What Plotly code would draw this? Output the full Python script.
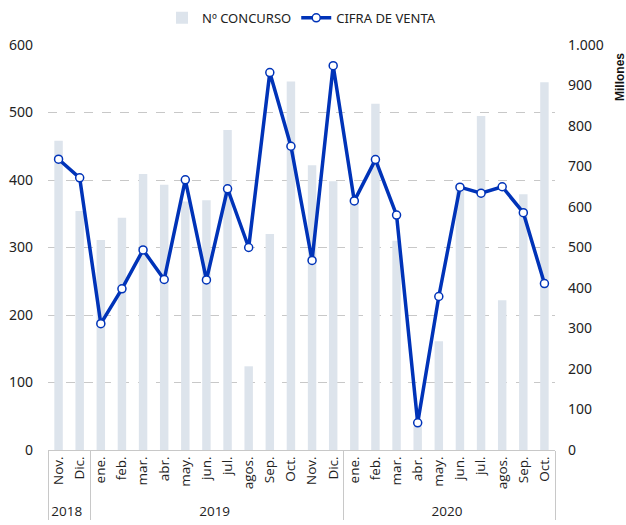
import plotly.graph_objects as go

ZW = "\u200b"  # keeps repeated month names distinct across years
years = ["2018"] * 2 + ["2019"] * 12 + ["2020"] * 10
months = ["Nov.", "Dic.",
          "ene.", "feb.", "mar.", "abr.", "may.", "jun.", "jul.", "agos.", "Sep.", "Oct.", "Nov." + ZW, "Dic." + ZW,
          "ene.", "feb.", "mar.", "abr.", "may.", "jun.", "jul.", "agos.", "Sep.", "Oct."]

concurso = [458, 354,
            311, 344, 409, 393, 368, 370, 474, 124, 320, 546, 422, 398,
            368, 513, 310, 35, 161, 385, 495, 222, 379, 545]

cifra_venta = [718, 672,
               312, 398, 494, 421, 667, 420, 645, 500, 932, 750, 468, 949,
               615, 717, 580, 67, 379, 649, 634, 650, 586, 411]

fig = go.Figure()
fig.add_trace(go.Bar(
    x=[years, months], y=concurso, name="Nº CONCURSO",
    marker=dict(color="#dde4ec", line=dict(width=0)),
    width=0.4, yaxis="y",
))
fig.add_trace(go.Scatter(
    x=[years, months], y=cifra_venta, name="CIFRA DE VENTA",
    mode="lines+markers",
    line=dict(color="#0033b8", width=3.5),
    marker=dict(size=8, color="white", line=dict(color="#0033b8", width=1.5)),
    yaxis="y2",
))

fig.update_layout(
    width=626, height=525,
    margin=dict(l=48, r=71, t=45, b=75, autoexpand=False),
    paper_bgcolor="white", plot_bgcolor="white",
    separators=",.",
    font=dict(family="Noto Sans", size=13, color="#222"),
    showlegend=True,
    legend=dict(orientation="h", x=0.5, xanchor="center", y=1.03, yanchor="bottom",
                font=dict(size=13, color="#222"), traceorder="normal"),
    xaxis=dict(
        type="multicategory", tickangle=-90, automargin=False,
        range=[-0.5, len(months) - 0.5],
        showline=True, linecolor="#c8c8c8", linewidth=1,
        showdividers=True, dividercolor="#c8c8c8", dividerwidth=1,
        ticks="", tickfont=dict(family="Open Sans", size=13.5, color="#222"),
        showgrid=False,
    ),
    yaxis=dict(
        range=[0, 600], dtick=100, showgrid=True, automargin=False,
        gridcolor="#c8c8c8", griddash="dash", gridwidth=1,
        zeroline=False, showline=False, ticks="",
        ticklabelstandoff=14,
        tickfont=dict(size=14, color="#222"),
    ),
    yaxis2=dict(
        range=[0, 1000], dtick=100, overlaying="y", side="right", automargin=False,
        showgrid=False, zeroline=False, showline=False, ticks="",
        tickformat=",d", ticklabelstandoff=12,
        tickfont=dict(size=14, color="#222"),
    ),
    bargap=0.6,
)

fig.add_annotation(
    text="<b>Millones</b>", xref="paper", yref="paper",
    x=1.0, xshift=56, y=1.0, yshift=-6, xanchor="left", yanchor="top",
    textangle=-90, showarrow=False, font=dict(family="Liberation Sans", size=12, color="#111"),
)

fig.write_html(
    "out.html",
    config={"displayModeBar": False},
    post_script="document.body.style.margin='0';document.body.style.overflow='hidden';",
)
